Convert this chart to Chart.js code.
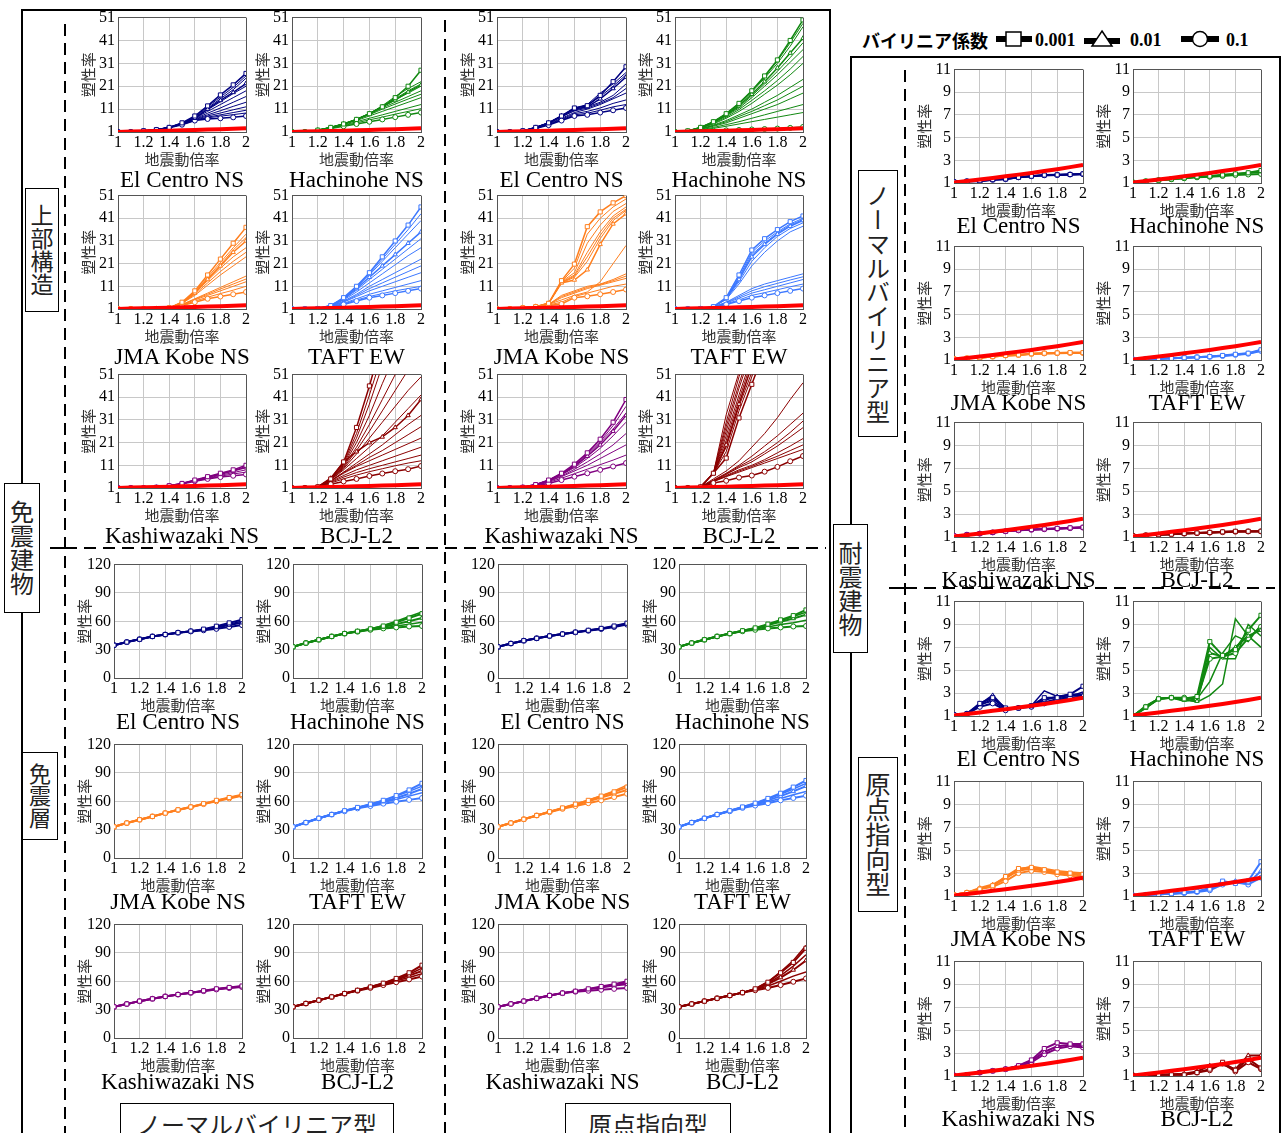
<!DOCTYPE html>
<html><head><meta charset="utf-8">
<script src="https://cdn.jsdelivr.net/npm/chart.js@4.4.0/dist/chart.umd.min.js"></script>
<style>
body{margin:0;background:#fff;width:1282px;height:1133px;overflow:hidden;position:relative;font-family:"Liberation Serif",serif;}
.lbl{position:absolute;border:1.5px solid #000;background:#fff;box-sizing:border-box;font-family:"Noto Sans CJK JP";color:#222;display:flex;align-items:center;justify-content:center;}
.v{writing-mode:vertical-rl;}
.nm{position:absolute;font-size:23px;white-space:nowrap;transform:translate(-50%,-50%);color:#000;}
.lg{position:absolute;font-weight:bold;white-space:nowrap;transform:translateY(-50%);}
canvas{position:absolute;}
</style></head>
<body>
<svg width="1282" height="1133" style="position:absolute;left:0;top:0">
  <rect x="22" y="10" width="808" height="1140" fill="none" stroke="#000" stroke-width="2"/>
  <rect x="851" y="57" width="429" height="1100" fill="none" stroke="#000" stroke-width="2"/>
  <g stroke="#000" stroke-width="2" stroke-dasharray="12,7" fill="none">
    <line x1="65" y1="24" x2="65" y2="1133"/>
    <line x1="445" y1="20" x2="445" y2="1133"/>
    <line x1="65" y1="548" x2="826" y2="548"/>
    <line x1="905" y1="70" x2="905" y2="1133"/>
    <line x1="905" y1="588" x2="1275" y2="588"/>
  </g>
  <g stroke="#000" stroke-width="2">
    <line x1="50" y1="548" x2="65" y2="548"/>
    <line x1="889" y1="588" x2="905" y2="588"/>
  </g>
</svg>

<div class="lbl v" style="left:25px;top:188px;width:34px;height:124px;font-size:23px;">上部構造</div>
<div class="lbl v" style="left:4px;top:483px;width:36px;height:130px;font-size:24px;">免震建物</div>
<div class="lbl v" style="left:22px;top:752px;width:36px;height:88px;font-size:22px;">免震層</div>
<div class="lbl v" style="left:833px;top:524px;width:35px;height:129px;font-size:24px;">耐震建物</div>
<div class="lbl v" style="left:858px;top:170px;width:40px;height:267px;font-size:24px;">ノーマルバイリニア型</div>
<div class="lbl v" style="left:858px;top:757px;width:40px;height:155px;font-size:25px;">原点指向型</div>
<div class="lbl" style="left:120px;top:1103px;width:274px;height:40px;font-size:24px;">ノーマルバイリニア型</div>
<div class="lbl" style="left:565px;top:1103px;width:166px;height:40px;font-size:24px;">原点指向型</div>

<div class="lg" style="left:862px;top:40px;font-family:'Noto Sans CJK JP';font-size:18px;">バイリニア係数</div>
<svg class="lg" style="left:995px;top:39px" width="38" height="20"><line x1="1" y1="10" x2="37" y2="10" stroke="#000" stroke-width="6"/><rect x="11" y="3" width="15" height="14" fill="#fff" stroke="#000" stroke-width="1.5"/></svg>
<div class="lg" style="left:1035px;top:40px;font-size:18px;">0.001</div>
<svg class="lg" style="left:1083px;top:39px" width="38" height="20"><line x1="1" y1="12" x2="37" y2="12" stroke="#000" stroke-width="6"/><polygon points="19,2 29,17 9,17" fill="#fff" stroke="#000" stroke-width="1.5"/></svg>
<div class="lg" style="left:1130px;top:40px;font-size:18px;">0.01</div>
<svg class="lg" style="left:1180px;top:39px" width="40" height="20"><line x1="1" y1="10" x2="39" y2="10" stroke="#000" stroke-width="6"/><circle cx="20" cy="10" r="7.5" fill="#fff" stroke="#000" stroke-width="1.5"/></svg>
<div class="lg" style="left:1226px;top:40px;font-size:18px;">0.1</div>

<script>
// ---------- data ----------
const xLabels = [1.0,1.1,1.2,1.3,1.4,1.5,1.6,1.7,1.8,1.9,2.0];
const redRef  = [1.05,1.18,1.31,1.45,1.59,1.74,1.89,2.05,2.22,2.4,2.6];
const waveNames = ['El Centro NS','Hachinohe NS','JMA Kobe NS','TAFT EW','Kashiwazaki NS','BCJ-L2'];
const waveColors = ['#000080','#118811','#ff7f1e','#3c78ff','#800080','#8b0000'];
const coefLabels = ['0.001','0.01','0.1'];
// Each panel: [square(0.001), triangle(0.01), circle(0.1), ...other cases]
// 免震建物 上部構造 ノーマルバイリニア型
const U_NB_ELC = [
 [1,1,1.5,2,3,5,8,12.4,17.2,21.6,26.6],
 [1,1,1.5,2,3,4.8,7,11,14.8,18.3,22.2],
 [1,1,1.4,1.9,2.8,4.2,6,6.7,7,7.4,8],
 [1,1,1.5,2,3,4.9,7.7,12,16.3,20.5,25.5],
 [1,1,1.5,2,3,4.8,7.5,11.5,15.5,19.5,24.5],
 [1,1,1.5,2,3,4.75,7.2,10.7,14.2,17.8,21],
 [1,1,1.5,2,3,4.7,7,10,13,16,19],
 [1,1,1.5,2,3,4.6,6.8,9.2,11.5,14,16.5],
 [1,1,1.5,2,3,4.5,6.6,8.5,10.3,12.2,14],
 [1,1,1.5,2,3,4.4,6.4,8,9.3,10.7,12],
 [1,1,1.5,2,3,4.3,6.2,7.5,8.5,9.5,10.5],
 [1,1,1.5,2,2.9,4.3,6.1,7.2,7.9,8.6,9.3]];
const U_NB_HAC = [
 [1,1,1.8,3,4.5,6.5,9,12,16,21,28],
 [1,1,1.8,3,4.5,6.5,9,12,15,18.5,21.5],
 [1,1,1.6,2.5,3.5,4.5,5.5,6.5,7.5,8.5,9.5],
 [1,1,1.8,3,4.5,6.5,9,12.5,16.5,20,23],
 [1,1,1.8,3,4.5,6.5,9,12.2,15.5,19,22],
 [1,1,1.8,3,4.5,6.5,9,12,15,18,21],
 [1,1,1.8,3,4.5,6.5,8.8,11.5,14,16.5,19],
 [1,1,1.8,3,4.5,6.4,8.5,11,13.2,15.4,17.5],
 [1,1,1.7,2.9,4.3,6,8,10,12,14,16],
 [1,1,1.7,2.8,4,5.5,7,8.5,10,11.5,13],
 [1,1,1.6,2.6,3.8,5,6.3,7.5,8.8,10,11.2]];
const U_NB_JMA = [
 [1,1,1,1.1,1.5,4,9,16,23,30,37],
 [1,1,1,1.1,1.5,3.5,8,14,20,26,31],
 [1,1,1,1.1,1.4,2.5,4,5.5,6.5,7.5,8.5],
 [1,1,1,1.1,1.5,4,8.5,15,21.5,28,34],
 [1,1,1,1.1,1.5,3.9,8.3,14.5,20.5,27,32.5],
 [1,1,1,1.1,1.5,3.8,8,13.5,19,24,28],
 [1,1,1,1.1,1.5,3.7,7.5,12.5,17.5,22,26],
 [1,1,1,1.1,1.5,3.5,7,11.5,16,20,24],
 [1,1,1,1.1,1.4,3,5.5,8,10.5,13,15.5],
 [1,1,1,1.1,1.4,2.9,5.3,7.5,9.8,12,14.2],
 [1,1,1,1.1,1.4,2.8,5,7,9,11,13],
 [1,1,1,1.1,1.4,2.6,4.5,6.2,7.8,9.3,11]];
const U_NB_TAF = [
 [1,1,1.2,2.5,6,11,17,24,31,38,46],
 [1,1,1.2,2.4,5.5,10,15,20,25,30,35],
 [1,1,1.1,1.8,3,4.5,6,7,8,9,10],
 [1,1,1.2,2.5,5.9,10.8,16.5,23,29.5,36,43],
 [1,1,1.2,2.5,5.8,10.5,16,22,28,34,40],
 [1,1,1.2,2.4,5.3,9.3,14,18.5,23,27.5,32],
 [1,1,1.2,2.3,5,8.5,12.5,16.5,20.5,24.5,28],
 [1,1,1.2,2.2,4.5,7.5,11,14,17,20,23],
 [1,1,1.2,2.1,4.2,7,10,12.5,15,17.5,20],
 [1,1,1.1,2,4,6.5,9,11,13,15,17],
 [1,1,1.1,1.9,3.5,5.5,7.5,9,10.5,12,13.5],
 [1,1,1.1,1.8,3.2,5,6.5,7.8,9,10,11]];
const U_NB_KAS = [
 [1,1,1,1.3,2,3,4.5,6,7.5,9,11],
 [1,1,1,1.3,2,3,4.3,5.7,7,8.5,10],
 [1,1,1,1.2,1.8,2.8,4,5,5.8,6.4,7],
 [1,1,1,1.3,2,3,4.4,5.9,7.3,8.7,10.5],
 [1,1,1,1.3,1.9,2.9,4.2,5.4,6.6,7.8,9],
 [1,1,1,1.2,1.9,2.9,4.1,5.2,6.2,7.2,8]];
const U_NB_BCJ = [
 [1,1,1.5,5,12.5,27.7,46,66,80,95,110],
 [1,1,1.5,5.3,12.4,17,21,23.5,27.7,33,40],
 [1,1,1.3,2.7,3.9,5,6.3,7.4,8.4,9.3,10.7],
 [1,1,1.5,5,12,25,42,60,75,90,105],
 [1,1,1.5,5,11.5,23,38,55,70,85,100],
 [1,1,1.5,4.9,11,21,33,47,60,73,86],
 [1,1,1.5,4.8,10.5,19,29,40,51,62,72],
 [1,1,1.5,4.7,10,17.5,26,35,44,53,61],
 [1,1,1.5,4.6,9.5,16,23,30,37,44,50],
 [1,1,1.5,4.5,9,14,19,24,30,36,42],
 [1,1,1.4,4.2,8,12,16,20,24.5,29,33],
 [1,1,1.4,4.1,7.8,11,14.5,17.5,21,24.5,28],
 [1,1,1.4,4,7.5,10.5,13,15.5,18,20.5,23],
 [1,1,1.4,3.8,6.5,9,11,13,15,17,19],
 [1,1,1.4,3.5,5.8,7.8,9.5,11,12.5,14,15.5],
 [1,1,1.4,3.2,5,6.7,8.2,9.5,10.8,12,13]];
// 免震建物 上部構造 原点指向型
const U_OR_ELC = [
 [1,1,1.5,3,5,8,11.5,12.5,17,23,29.5],
 [1,1,1.5,3,5,8,11,12,15.5,20,25],
 [1,1,1.4,2.5,4,6,8,8.5,9.5,10.5,11.5],
 [1,1,1.5,3,5,8,11.5,13,18,22,27],
 [1,1,1.5,3,5,8,11.3,12.7,16.5,21,26],
 [1,1,1.5,3,5,7.5,10.5,12,14,17,22],
 [1,1,1.5,2.9,4.8,7.7,10.2,11.5,13.5,16,20],
 [1,1,1.5,2.8,4.6,7,9.5,11,13,15.5,18],
 [1,1,1.5,2.7,4.4,6.6,9,10,11.5,13.5,15],
 [1,1,1.5,2.6,4.2,6.3,8.5,9.2,10.5,12,13]];
const U_OR_HAC = [
 [1,1.5,3,5.5,9,13.5,19,25.5,32.5,41,50],
 [1,1.5,3,5.3,8.5,12.5,17.5,23,29,35.5,42],
 [1,1.1,1.3,1.5,1.7,1.9,2.1,2.3,2.5,2.8,3.2],
 [1,1.5,3,5.5,9,13.5,19,25,32,40,48.5],
 [1,1.5,3,5.4,8.8,13,18.5,24.5,31,38.5,47],
 [1,1.5,2.9,5.2,8.3,12,16.8,22,27.5,33.5,40],
 [1,1.4,2.8,5,8,11.5,16,21,26,31.5,37],
 [1,1.4,2.7,4.8,7.5,10.8,14.8,19,23.5,28.5,34],
 [1,1.4,2.6,4.5,7,10,13.5,17.5,21.5,26,31],
 [1,1.3,2.4,4,6,8.5,11,14,17,20.5,24],
 [1,1.3,2.3,3.8,5.5,7.8,10,12.5,15,18,21],
 [1,1.3,2.2,3.5,5,7,9,11,13,15.5,18],
 [1,1.2,2,3,4.2,5.5,7,8.5,10,11.5,13],
 [1,1.2,1.8,2.6,3.5,4.5,5.5,6.5,7.5,8.5,9.5]];
const U_OR_JMA = [
 [1,1,1.5,2,3.5,13.5,20.8,37.3,43.8,47.8,51],
 [1,1,1.5,2,3.5,12.5,13.8,18.3,29.5,38.5,43],
 [1,1,1.5,2,2.5,3.2,6,6.6,7.5,8.5,9.6],
 [1,1,1.5,2,3.5,13,19,34,41,46,49.5],
 [1,1,1.5,2,3.5,13,17,30,38,44,47.5],
 [1,1,1.5,2,3.5,12.8,16,26,35,42,46],
 [1,1,1.5,2,3.5,12.6,15.5,24,33.5,41,45],
 [1,1,1.5,2,3.5,12.5,15,22,32,40,44.5],
 [1,1,1.5,2,3,7,9,11,12,14,16.5],
 [1,1,1.5,2,3,6.5,8.5,10.5,11.8,13.5,15.5],
 [1,1,1.5,2,3,6,8,10,11.5,13,14.5],
 [1,1,1.5,2,3,5,7,8.5,13,21,29],
 [1,1,1.5,2,2.8,4,6.5,8,9.5,11,12]];
const U_OR_TAF = [
 [1,1,1.2,2,6,16,27,32,36,39.5,42],
 [1,1,1.2,2,5.5,14,24,29.5,34,37.5,40],
 [1,1,1.1,1.8,3,4.5,6,7,8,9,10],
 [1,1,1.2,2,5.8,15,26,31,35,38.5,41],
 [1,1,1.2,2,5.7,14.5,25,30,34.5,38,40.5],
 [1,1,1.2,2,5.5,13,22,28,33,36.5,39],
 [1,1,1.2,2,5.2,12,20,26,31,35,37.5],
 [1,1,1.2,1.9,4,7,10,12,13.5,15,16.5],
 [1,1,1.2,1.9,3.8,6.4,9,10.8,12.3,13.8,15.2],
 [1,1,1.1,1.9,3.6,5.8,8,9.5,11,12.5,14],
 [1,1,1.1,1.8,3.3,5,7,8.2,9.5,10.8,12]];
const U_OR_KAS = [
 [1,1,1.3,2.5,4.5,7.5,11.5,16.5,22.5,30,40],
 [1,1,1.3,2.5,4.3,7,10.5,15,20,26,33],
 [1,1,1.2,2,3,4.5,6,7.5,9,10.5,12],
 [1,1,1.3,2.5,4.5,7.3,11,16,21.5,28.5,37],
 [1,1,1.3,2.5,4.4,7.2,10.8,15.5,21,27,34],
 [1,1,1.3,2.4,4.2,6.8,10,14,18.5,24,30],
 [1,1,1.3,2.3,4,6.3,9.2,12.5,16,20,25],
 [1,1,1.3,2.3,3.8,6,8.5,11,14,17,20],
 [1,1,1.2,2.2,3.5,5.3,7.3,9.3,11.3,13.3,15.5]];
const U_OR_BCJ = [
 [1,1,1.5,7.5,14.2,31.9,46.7,62,78,95,110],
 [1,1,1.5,7.5,20,38,55,72,90,105,120],
 [1,1,1.2,3.2,4.2,5.6,6.5,8.2,10.3,12.8,15.1],
 [1,1,1.5,7.5,33.3,52,70,88,105,120,135],
 [1,1,1.5,7.5,30,50,67,85,100,115,130],
 [1,1,1.5,7.5,28,47,64,80,96,110,125],
 [1,1,1.5,7.5,26,45,62,78,94,108,122],
 [1,1,1.5,7.5,24,42,59,76,92,106,120],
 [1,1,1.5,7.5,22,40,57,74,90,104,118],
 [1,1,1.5,7.5,19,37,52,68,84,100,115],
 [1,1,1.5,7.5,17,35,50,66,82,98,112],
 [1,1,1.5,5,8.5,13,19,25,32,40,47.4],
 [1,1,1.5,4.5,7.5,11,15,19.5,24,29,34],
 [1,1,1.4,4.2,7.2,10.5,13.5,17,21,25.5,30.5],
 [1,1,1.4,4.2,7,10,12.5,16,19.5,23.5,27.6],
 [1,1,1.4,4,6.5,9,11,13.5,16.5,19.5,22.8],
 [1,1,1.3,3.9,6.2,8.5,10.5,12.8,15,17.5,20],
 [1,1,1.3,3.8,6,8,10,12,14,16,18]];
// 免震建物 免震層 ノーマルバイリニア型
const L_NB_ELC = [
 [34.7,38,41,44,46,48,49.6,51.7,54.8,58.3,61.7],
 [34.7,38,41,44,46,48,49.6,51,53.5,56,58.5],
 [34.7,38,41,44,46,48,49.3,50.5,52,54,56],
 [34.7,38,41,44,46,48,49.5,51.3,54,57,60]];
const L_NB_HAC = [
 [33,37,40.5,44,47,49.5,52,55,59,63.5,68],
 [33,37,40.5,44,47,49.5,51.5,54,57,60,63.5],
 [33,37,40.5,44,47,49,51,52.5,53.5,54.5,55],
 [33,37,40.5,44,47,49.5,52,55.5,60,65,70],
 [33,37,40.5,44,47,49.3,51,53,55,57,59]];
const L_NB_JMA = [
 [33,37,40.5,44,47.5,51,54,57.5,61,64,67],
 [33,37,40.5,44,47.5,51,54,57.3,60.5,63.5,66.5],
 [33,37,40.5,44,47.5,50.8,53.8,57,60,63,66]];
const L_NB_TAF = [
 [33,37.5,42,46,50,53.5,57,61,66,72,79],
 [33,37.5,42,46,50,53,56,59.5,63.5,68,73],
 [33,37.5,42,46,49.5,52.5,55,57.5,59.5,61.5,63.5],
 [33,37.5,42,46,50,53.5,57,61,65.5,70.5,76],
 [33,37.5,42,46,49.8,53,56,59,62,65.5,69]];
const L_NB_KAS = [
 [33,36,39,41.5,44,46,48,50,52,53.5,55],
 [33,36,39,41.5,44,46,48,49.8,51.7,53.2,54.5],
 [33,36,39,41.5,44,46,47.8,49.6,51.4,52.8,54]];
const L_NB_BCJ = [
 [33,36.5,40,43.5,47,50.5,54,58,63,69,77],
 [33,36.5,40,43.5,47,50.5,54,57.5,61.5,66,71],
 [33,36.5,40,43.5,47,50,53,56,59,62,65],
 [33,36.5,40,43.5,47,50.5,54,58,62.5,67.5,74],
 [33,36.5,40,43.5,47,50.5,53.5,57,60.5,64,68]];
// 免震建物 免震層 原点指向型
const L_OR_ELC = [
 [33,36.5,39.5,42,44.5,46.5,48.5,50.5,52.5,55,58],
 [33,36.5,39.5,42,44.5,46.5,48.5,50.3,52.2,54.5,57.3],
 [33,36.5,39.5,42,44.5,46.5,48.3,50,51.8,54,56.5]];
const L_OR_HAC = [
 [33,37,40.5,44,47,50,53,57,61.5,66,72],
 [33,37,40.5,44,47,50,52.5,56,59.5,63,67],
 [33,37,40.5,44,47,49.5,51,52.5,53.5,54.5,55],
 [33,37,40.5,44,47,50,53,56.5,60.5,65,69.5],
 [33,37,40.5,44,47,49.5,52,54,56.5,58.5,61]];
const L_OR_JMA = [
 [33,37,41,45,49,53,57,61,65.5,70,75],
 [33,37,41,45,49,52.5,56,60,64,68,72],
 [33,37,41,45,48.5,52,55,58,61,64.5,68],
 [33,37,41,45,49,53,57,61.5,66,71,77]];
const L_OR_TAF = [
 [33,37.5,42,46,50,54,58,63,68.5,75,82],
 [33,37.5,42,46,50,53.5,57,61,65.5,70.5,76],
 [33,37.5,42,46,49.5,53,55.5,58,61,63.5,66],
 [33,37.5,42,46,50,54,58,62.5,67.5,73,79],
 [33,37.5,42,46,49.8,53,56.5,59.5,63,67,70.5]];
const L_OR_KAS = [
 [33,36,39,42,45,47.5,49.5,52,54.5,57,60],
 [33,36,39,42,45,47.5,49.5,51.5,53.5,55.5,57],
 [33,36,39,42,45,47.5,49,50,51,52,53],
 [33,36,39,42,45,47.5,49.5,51.8,54,56.5,58.5]];
const L_OR_BCJ = [
 [33,36,39,42,45,48,52,59,69,80,95],
 [33,36,39,42,45,48,51.5,57,64,72,82],
 [33,36,39,42,45,48,50.5,53,56,59.5,63],
 [33,36,39,42,45,48,52,59.5,70,82,98],
 [33,36,39,42,45,48,51,55,60,65.5,70],
 [33,36,39,42,45,48,52,58,66,76,88]];
// 耐震建物 ノーマルバイリニア型
const R_NB_ELC = [
 [1.1,1.15,1.2,1.3,1.35,1.5,1.6,1.7,1.72,1.75,1.8],
 [1.1,1.15,1.18,1.29,1.35,1.5,1.6,1.69,1.71,1.75,1.79],
 [1.1,1.15,1.15,1.28,1.35,1.5,1.6,1.68,1.7,1.75,1.78]];
const R_NB_HAC = [
 [1.05,1.15,1.25,1.35,1.45,1.55,1.6,1.7,1.8,1.9,2.1],
 [1.05,1.15,1.25,1.35,1.45,1.55,1.6,1.7,1.8,1.88,2.0],
 [1.05,1.15,1.25,1.33,1.42,1.5,1.55,1.62,1.7,1.75,1.8]];
const R_NB_JMA = [
 [1.1,1.15,1.2,1.3,1.4,1.45,1.55,1.6,1.62,1.65,1.65],
 [1.1,1.15,1.2,1.3,1.4,1.45,1.55,1.6,1.62,1.64,1.64],
 [1.1,1.15,1.2,1.3,1.4,1.45,1.54,1.58,1.6,1.62,1.62]];
const R_NB_TAF = [
 [1.05,1.1,1.12,1.15,1.2,1.25,1.3,1.4,1.5,1.6,1.9],
 [1.05,1.1,1.12,1.15,1.2,1.25,1.3,1.38,1.48,1.58,1.85],
 [1.05,1.1,1.12,1.15,1.2,1.24,1.28,1.35,1.45,1.55,1.8]];
const R_NB_KAS = [
 [1.1,1.2,1.3,1.4,1.5,1.6,1.65,1.7,1.75,1.8,1.85],
 [1.1,1.2,1.3,1.4,1.5,1.6,1.65,1.7,1.74,1.79,1.84],
 [1.1,1.2,1.3,1.4,1.5,1.58,1.63,1.68,1.72,1.77,1.82]];
const R_NB_BCJ = [
 [1.1,1.15,1.2,1.25,1.3,1.35,1.4,1.45,1.5,1.5,1.5],
 [1.1,1.15,1.2,1.25,1.3,1.35,1.4,1.44,1.48,1.49,1.5],
 [1.1,1.15,1.2,1.25,1.3,1.34,1.38,1.42,1.46,1.48,1.49]];
// 耐震建物 原点指向型
const R_OR_ELC = [
 [1.1,1.2,2.1,2.6,1.7,1.7,1.9,2.6,2.6,2.9,3.6],
 [1.1,1.2,2,2.8,1.6,1.7,1.9,2.4,2.7,2.8,2.8],
 [1.1,1.2,1.8,2.1,1.5,1.7,1.8,2.1,2.4,2.6,2.7],
 [1.1,1.2,1.9,2.5,1.7,1.7,1.9,3.2,2.7,2.9,2.9],
 [1.1,1.2,2,2.3,1.6,1.7,1.85,2.2,2.5,2.7,3.1]];
const R_OR_HAC = [
 [1,1.8,2.5,2.6,2.5,2.7,7.5,6.3,6.8,8.5,9.8],
 [1,1.7,2.5,2.6,2.4,2.3,6.5,6.2,7,8,8.5],
 [1,1.8,2.5,2.6,2.6,2.5,6,6.2,6.5,7.8,8.8],
 [1,1.9,2.5,2.6,2.5,2.2,2.8,3.8,9.5,8,7],
 [1,1.8,2.5,2.6,2.5,2.6,7,6,6,9,8],
 [1,1.7,2.5,2.6,2.3,2.5,4,6.5,8,7.5,9]];
const R_OR_JMA = [
 [1.1,1.3,1.6,1.9,2.7,3.4,3.5,3.3,3.1,3,2.9],
 [1.1,1.3,1.7,2,2.6,3.2,3.4,3.2,3,2.9,2.8],
 [1.1,1.3,1.6,1.8,2.3,3,3.2,3.1,2.9,2.8,2.6],
 [1.1,1.3,1.6,1.9,2.5,3.3,3.6,3.4,3.2,3.1,3]];
const R_OR_TAF = [
 [1.05,1.1,1.15,1.2,1.3,1.4,1.6,2.3,2.1,2.3,4],
 [1.05,1.1,1.15,1.2,1.3,1.4,1.7,2.1,2.3,2.1,3.2],
 [1.05,1.1,1.15,1.2,1.25,1.35,1.5,2,2.2,2,2.6]];
const R_OR_KAS = [
 [1.05,1.1,1.3,1.45,1.6,1.9,2.4,3.4,3.9,3.8,3.8],
 [1.05,1.1,1.3,1.45,1.6,1.9,2.3,3.1,3.6,3.7,3.6],
 [1.05,1.1,1.3,1.45,1.6,1.85,2.2,2.9,3.4,3.6,3.5]];
const R_OR_BCJ = [
 [1.05,1.05,1.1,1.1,1.1,1.3,1.6,2.2,1.5,2.5,1.7],
 [1.05,1.05,1.1,1.15,1.2,1.4,1.9,2.0,1.6,2.8,2.8],
 [1.05,1.05,1.1,1.1,1.1,1.3,1.5,2.1,1.4,2.2,1.6]];

const upperNB = [U_NB_ELC,U_NB_HAC,U_NB_JMA,U_NB_TAF,U_NB_KAS,U_NB_BCJ];
const upperOR = [U_OR_ELC,U_OR_HAC,U_OR_JMA,U_OR_TAF,U_OR_KAS,U_OR_BCJ];
const lowerNB = [L_NB_ELC,L_NB_HAC,L_NB_JMA,L_NB_TAF,L_NB_KAS,L_NB_BCJ];
const lowerOR = [L_OR_ELC,L_OR_HAC,L_OR_JMA,L_OR_TAF,L_OR_KAS,L_OR_BCJ];
const rightNB = [R_NB_ELC,R_NB_HAC,R_NB_JMA,R_NB_TAF,R_NB_KAS,R_NB_BCJ];
const rightOR = [R_OR_ELC,R_OR_HAC,R_OR_JMA,R_OR_TAF,R_OR_KAS,R_OR_BCJ];

const yAxes = {U:{min:1,max:51,step:10}, L:{min:0,max:120,step:30}, R:{min:1,max:11,step:2}};

// ---------- layout ----------
const upRows = [[15,132],[193,309],[372,488]];
const loRows = [[562,678],[742,858],[922,1038]];
const groups = [
 {sets:upperNB, kind:'U', cols:[[118,246],[292,421]], rows:upRows, nameDy:48},
 {sets:upperOR, kind:'U', cols:[[497,626],[675,803]], rows:upRows, nameDy:48},
 {sets:lowerNB, kind:'L', cols:[[114,242],[293,422]], rows:loRows, nameDy:44},
 {sets:lowerOR, kind:'L', cols:[[498,627],[679,806]], rows:loRows, nameDy:44},
 {sets:rightNB, kind:'R', cols:[[954,1083],[1133,1261]], rows:[[67,183],[244,360],[420,537]], nameDy:43},
 {sets:rightOR, kind:'R', cols:[[954,1083],[1133,1261]], rows:[[599,716],[779,896],[959,1076]], nameDy:43}
];

const pointStyles = ['rect','triangle','circle'];
const FONT_T = {family:'Liberation Serif', size:16};
const FONT_J = {family:'Noto Sans CJK JP', size:15};

function gridColor(min,max){
  return c => (c.tick && (Math.abs(c.tick.value-min)<1e-6 || Math.abs(c.tick.value-max)<1e-6)) ? '#555' : '#c8c8c8';
}

function addPanel(series, wave, col, row, kind, nameDy){
  const padT=10, padL=1, yW=39, padR=12, xH=36;
  const pw = col[1]-col[0], ph = row[1]-row[0];
  const W = padL+yW+pw+padR, H = padT+ph+xH;
  const cv = document.createElement('canvas');
  cv.width=W; cv.height=H;
  cv.style.left=(col[0]-yW-padL)+'px'; cv.style.top=(row[0]-padT)+'px';
  cv.style.width=W+'px'; cv.style.height=H+'px';
  document.body.appendChild(cv);
  const color = waveColors[wave];
  const ya = yAxes[kind];
  const lw = kind==='U' ? [1.5,1] : [2,1.5];
  const datasets = [];
  if (kind!=='L') datasets.push({data:redRef, borderColor:'#ff0000', borderWidth:4, pointRadius:0});
  series.forEach((s,i)=>{
    const m = i<3;
    datasets.push({data:s, borderColor:color, borderWidth: m?lw[0]:lw[1],
      pointRadius: m?(i===0?2.9:2.5):0, pointStyle: m?pointStyles[i]:'circle',
      pointBackgroundColor:'#fff', pointBorderColor:color, pointBorderWidth:1,
      label: m?coefLabels[i]:''});
  });
  new Chart(cv, {
    type:'line',
    data:{labels:xLabels, datasets},
    options:{
      responsive:false, animation:false, devicePixelRatio:1,
      layout:{padding:{top:padT,left:padL,right:padR,bottom:0}},
      elements:{line:{tension:0}},
      plugins:{legend:{display:false}, tooltip:{enabled:false}},
      scales:{
        x:{type:'linear', min:1, max:2, afterFit:s=>{s.height=xH;},
          ticks:{stepSize:0.2, autoSkip:false, maxRotation:0, padding:1, color:'#000', font:FONT_T,
                 callback:v=>String(+(+v).toFixed(1))},
          grid:{color:gridColor(1,2), drawTicks:false},
          border:{color:'#555'},
          title:{display:true, text:'地震動倍率', color:'#333', font:FONT_J, padding:0}},
        y:{min:ya.min, max:ya.max, afterFit:s=>{s.width=yW;},
          ticks:{stepSize:ya.step, padding:3, color:'#000', font:FONT_T},
          grid:{color:gridColor(ya.min,ya.max), drawTicks:false},
          border:{color:'#555'},
          title:{display:true, text:'塑性率', color:'#333', font:FONT_J, padding:0}}
      }
    }
  });
  const nm = document.createElement('div');
  nm.className='nm';
  nm.textContent = waveNames[wave];
  nm.style.left = ((col[0]+col[1])/2)+'px';
  nm.style.top = (row[1]+nameDy)+'px';
  document.body.appendChild(nm);
}

groups.forEach(g=>{
  g.sets.forEach((series,w)=>{
    addPanel(series, w, g.cols[w%2], g.rows[Math.floor(w/2)], g.kind, g.nameDy);
  });
});
</script>
</body></html>
